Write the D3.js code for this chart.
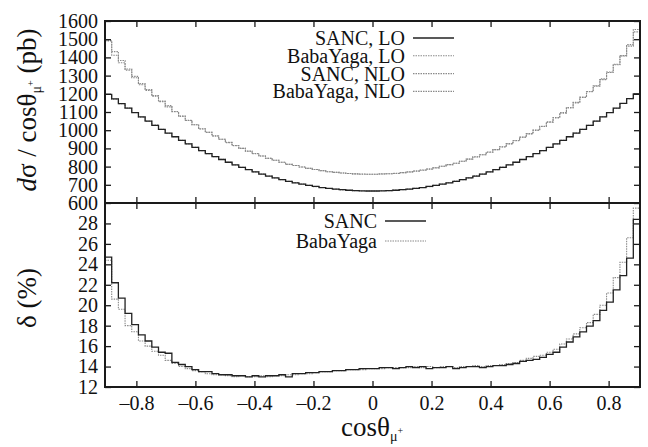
<!DOCTYPE html>
<html>
<head>
<meta charset="utf-8">
<script src="https://cdn.jsdelivr.net/npm/d3@7"></script>
<style>
  body { margin: 0; background: #fff; }
  svg { display: block; }
</style>
</head>
<body>
<svg id="chart" width="648" height="447"></svg>
<script>
// cos(theta) range of the histograms
const cosRange = [-0.9063, 0.9063];

// top panel: dsigma / dcos (pb), one value per bin
const sancLO = [1197, 1172, 1146, 1121, 1097, 1073, 1050, 1027, 1005, 984, 964, 944, 925, 906, 888, 871, 855, 839, 824, 810,
  796, 783, 771, 759, 748, 738, 728, 719, 711, 704, 697, 691, 685, 680, 676, 673, 670, 668, 667, 666,
  666, 667, 668, 670, 673, 676, 680, 685, 691, 697, 704, 711, 719, 728, 738, 748, 759, 771, 783, 796,
  810, 824, 839, 855, 871, 888, 906, 925, 944, 964, 984, 1005, 1027, 1050, 1073, 1097, 1121, 1147, 1173, 1199];
const babaLO = [1196, 1171, 1146, 1122, 1097, 1072, 1050, 1028, 1005, 983, 964, 945, 925, 906, 887, 871, 855, 840, 824, 809,
  796, 784, 771, 759, 748, 737, 728, 719, 712, 704, 697, 690, 685, 680, 676, 672, 670, 668, 666, 666,
  666, 667, 668, 671, 673, 676, 681, 685, 690, 697, 704, 711, 720, 728, 738, 749, 759, 771, 783, 797,
  810, 824, 839, 855, 872, 888, 906, 924, 944, 964, 985, 1005, 1027, 1050, 1074, 1097, 1121, 1147, 1173, 1200];
const sancNLO = [1493, 1432, 1383, 1336, 1296, 1256, 1223, 1190, 1160, 1135, 1103, 1078, 1054, 1030, 1008, 989, 969, 950, 933, 916,
  900, 885, 872, 858, 846, 835, 824, 812, 806, 798, 790, 784, 777, 772, 768, 765, 762, 760, 759, 758,
  758, 760, 761, 762, 767, 771, 775, 781, 786, 794, 802, 811, 818, 829, 841, 853, 865, 879, 893, 908,
  925, 942, 961, 980, 999, 1020, 1044, 1067, 1094, 1122, 1150, 1180, 1211, 1244, 1282, 1320, 1362, 1410, 1462, 1540];
const babaNLO = [1490, 1412, 1371, 1330, 1288, 1250, 1218, 1187, 1157, 1128, 1101, 1076, 1053, 1030, 1007, 988, 968, 950, 932, 915,
  900, 884, 871, 858, 845, 835, 824, 813, 806, 798, 791, 784, 778, 772, 768, 765, 762, 760, 758, 758,
  758, 759, 761, 763, 767, 770, 776, 780, 787, 793, 802, 811, 818, 829, 841, 854, 865, 880, 893, 909,
  926, 943, 962, 981, 1001, 1022, 1046, 1070, 1097, 1125, 1153, 1182, 1213, 1242, 1278, 1317, 1360, 1408, 1470, 1553];

// bottom panel: delta (%)
const sancDelta = [24.7, 22.2, 20.7, 19.2, 18.1, 17.1, 16.5, 15.9, 15.4, 15.3, 14.4, 14.2, 14.0, 13.7, 13.5, 13.5, 13.3, 13.2, 13.2, 13.1,
  13.1, 13.0, 13.1, 13.0, 13.1, 13.1, 13.2, 13.0, 13.3, 13.3, 13.4, 13.4, 13.5, 13.5, 13.6, 13.6, 13.7, 13.7, 13.8, 13.8,
  13.8, 13.9, 13.9, 13.8, 13.9, 14.0, 13.9, 14.0, 13.8, 13.9, 13.9, 14.0, 13.8, 13.9, 14.0, 14.0, 13.9, 14.0, 14.1, 14.1,
  14.2, 14.3, 14.5, 14.6, 14.7, 14.9, 15.2, 15.4, 15.9, 16.4, 16.9, 17.4, 17.95, 18.5, 19.5, 20.3, 21.5, 22.9, 24.6, 28.4];
const babaDelta = [24.4, 20.6, 19.6, 18.0, 17.4, 16.5, 16.0, 15.5, 15.1, 14.6, 14.3, 14.0, 13.8, 13.6, 13.5, 13.3, 13.2, 13.2, 13.1, 13.0,
  13.1, 13.0, 13.0, 13.1, 13.0, 13.1, 13.1, 13.2, 13.2, 13.3, 13.3, 13.4, 13.5, 13.5, 13.6, 13.6, 13.7, 13.7, 13.7, 13.8,
  13.8, 13.8, 13.9, 13.9, 13.9, 13.9, 14.0, 13.9, 14.0, 13.9, 14.0, 14.0, 13.9, 14.0, 14.0, 14.1, 14.0, 14.1, 14.1, 14.2,
  14.3, 14.4, 14.6, 14.8, 15.0, 15.1, 15.4, 15.7, 16.2, 16.7, 17.2, 17.8, 18.3, 19.1, 20.0, 21.2, 22.7, 24.2, 26.6, 29.5];

const xTicks = [-0.8, -0.6, -0.4, -0.2, 0, 0.2, 0.4, 0.6, 0.8];
const topTicks = [600, 700, 800, 900, 1000, 1100, 1200, 1300, 1400, 1500, 1600];
const botTicks = [12, 14, 16, 18, 20, 22, 24, 26, 28];

const topSeries = [
  { name: 'SANC, LO', values: sancLO, solid: true },
  { name: 'BabaYaga, LO', values: babaLO },
  { name: 'SANC, NLO', values: sancNLO },
  { name: 'BabaYaga, NLO', values: babaNLO }
];
const botSeries = [
  { name: 'SANC', values: sancDelta, solid: true },
  { name: 'BabaYaga', values: babaDelta }
];

const SERIF = "'Liberation Serif', 'Times New Roman', Times, 'DejaVu Serif', 'Noto Serif', serif";

const svg = d3.select('#chart').attr('font-family', SERIF);
const plotL = 105, plotR = 640, plotT = 21, plotM = 203, plotB = 387;

const x = d3.scaleLinear().domain(cosRange).range([plotL, plotR]);
const yTop = d3.scaleLinear().domain([600, 1600]).range([plotM, plotT]);
const yBot = d3.scaleLinear().domain([12, 30]).range([plotB, plotM]);

const fmtX = (d) => (d < 0 ? '\u2013' + d3.format('.1f')(-d) : d === 0 ? '0' : d3.format('.1f')(d));

function stepPoints(values) {
  const n = values.length;
  const edges = d3.range(n + 1).map((i) => cosRange[0] + i * (cosRange[1] - cosRange[0]) / n);
  return values.map((v, i) => [edges[i], v]).concat([[edges[n], values[n - 1]]]);
}

function lineStyle(sel, solid) {
  sel.attr('fill', 'none')
    .attr('stroke', solid ? '#222' : '#8a8a8a')
    .attr('stroke-width', solid ? 1.3 : 1.1)
    .attr('stroke-dasharray', solid ? null : '1.5,1');
}

function drawPanel(y, y0, y1, ticks, series, name) {
  svg.append('clipPath').attr('id', 'clip-' + name)
    .append('rect').attr('x', plotL).attr('y', y1).attr('width', plotR - plotL).attr('height', y0 - y1);

  const line = d3.line().x((d) => x(d[0])).y((d) => y(d[1])).curve(d3.curveStepAfter);
  const g = svg.append('g').attr('clip-path', `url(#clip-${name})`);
  // dotted series below, the solid one on top
  g.selectAll('path').data(series.slice().reverse()).join('path')
    .attr('d', (d) => line(stepPoints(d.values)))
    .each(function (d) { lineStyle(d3.select(this), d.solid); });

  svg.append('g').attr('transform', `translate(${plotL},0)`)
    .call(d3.axisLeft(y).tickValues(ticks).tickSize(-6).tickPadding(7).tickFormat(d3.format('d')));
  svg.append('g').attr('transform', `translate(${plotR},0)`)
    .call(d3.axisRight(y).tickValues(ticks).tickSize(-6).tickFormat(''));
  svg.append('g').attr('transform', `translate(0,${y1})`)
    .call(d3.axisTop(x).tickValues(xTicks).tickSize(-6).tickFormat(''));
  svg.append('g').attr('transform', `translate(0,${y0})`)
    .call(d3.axisBottom(x).tickValues(xTicks).tickSize(-6).tickPadding(9)
      .tickFormat(name === 'bot' ? fmtX : ''));

  svg.append('rect').attr('x', plotL).attr('y', y1).attr('width', plotR - plotL).attr('height', y0 - y1)
    .attr('fill', 'none').attr('stroke', '#1a1a1a').attr('stroke-width', 2);
}

drawPanel(yTop, plotM, plotT, topTicks, topSeries, 'top');
drawPanel(yBot, plotB, plotM, botTicks, botSeries, 'bot');

svg.selectAll('.domain').remove();
svg.selectAll('.tick line').attr('stroke', '#1a1a1a').attr('stroke-width', 1.3);
svg.selectAll('g').attr('font-family', SERIF).attr('font-size', 20);
svg.selectAll('.tick text').attr('fill', '#111');

function legend(series, textEnd, y0, dy, sampleW) {
  const g = svg.append('g');
  series.forEach((s, i) => {
    const cy = y0 + i * dy;
    g.append('text').attr('x', textEnd).attr('y', cy).attr('dy', '0.35em')
      .attr('text-anchor', 'end').attr('font-size', 20).attr('fill', '#111').text(s.name);
    g.append('line').attr('x1', textEnd + 8).attr('x2', textEnd + 8 + sampleW)
      .attr('y1', cy).attr('y2', cy)
      .call((l) => lineStyle(l, s.solid));
  });
}
legend(topSeries, 405, 38, 17.8, 41);
legend(botSeries, 377, 221, 20, 41);

// axis titles
const xt = svg.append('text').attr('x', 372).attr('y', 436).attr('text-anchor', 'middle')
  .attr('font-size', 27).attr('fill', '#111');
xt.append('tspan').text('cos\u03b8');
xt.append('tspan').attr('font-size', 14).attr('dy', 5).text('\u03bc');
xt.append('tspan').attr('font-size', 10).attr('dy', -7).text('+');

const yt = svg.append('text').attr('transform', 'translate(36,110) rotate(-90)')
  .attr('text-anchor', 'middle').attr('font-size', 27).attr('fill', '#111');
yt.append('tspan').attr('font-style', 'italic').text('d');
yt.append('tspan').text('\u03c3 / cos\u03b8');
yt.append('tspan').attr('font-size', 14).attr('dy', 5).text('\u03bc');
yt.append('tspan').attr('font-size', 10).attr('dy', -7).text('+');
yt.append('tspan').attr('dy', 2).text(' (pb)');

svg.append('text').attr('transform', 'translate(36,298) rotate(-90)')
  .attr('text-anchor', 'middle').attr('font-size', 27).attr('fill', '#111')
  .text('\u03b4 (%)');
</script>
</body>
</html>
